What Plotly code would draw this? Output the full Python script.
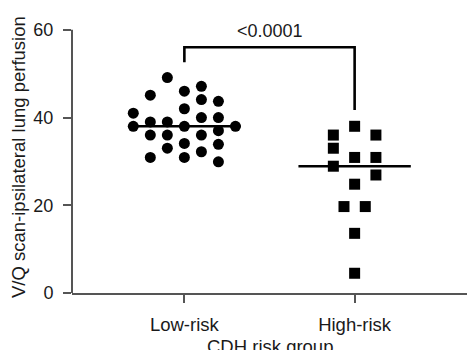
import numpy as np
import plotly.graph_objects as go

categories = ["Low-risk", "High-risk"]
cat_pos = [0, 1]

low_values = [49.1, 45.1, 46.0, 47.1, 44.1, 43.7, 41.0, 42.0, 40.0, 40.0, 38.0, 39.0, 39.0,
              38.0, 38.0, 37.0, 36.0, 36.0, 36.0, 33.9, 34.1, 33.0, 32.2, 30.9, 30.9, 29.9]
low_dx = [-0.1, -0.2, 0.0, 0.1, 0.1, 0.2, -0.3, 0.0, 0.1, 0.2, -0.3, -0.2, -0.1,
          0.0, 0.3, 0.2, -0.2, -0.1, 0.1, 0.2, 0.0, -0.1, 0.1, 0.0, -0.2, 0.2]

high_values = [38.0, 36.0, 36.0, 33.0, 30.9, 30.9, 28.9, 26.9, 24.8, 19.7, 19.7, 13.6, 4.5]
high_dx = [0.0, -0.125, 0.125, -0.125, 0.0, 0.125, -0.125, 0.125, 0.0, -0.0625, 0.0625, 0.0, 0.0]

y_ticks = [0, 20, 40, 60]
p_text = "<0.0001"
bracket_left, bracket_top, bracket_right = 52.6, 56.0, 41.7

FONT = "Liberation Sans, Arial, sans-serif"
TXT = "#1a1a1a"
AX = "#555555"
half = 0.33

fig = go.Figure()

# median lines
for pos, vals in zip(cat_pos, [low_values, high_values]):
    m = float(np.median(vals))
    fig.add_trace(go.Scatter(x=[pos - half, pos + half], y=[m, m], mode="lines",
                             line=dict(color="black", width=2.6), hoverinfo="skip",
                             showlegend=False))

fig.add_trace(go.Scatter(x=[cat_pos[0] + d for d in low_dx], y=low_values, mode="markers",
                         marker=dict(symbol="circle", size=11, color="black"),
                         showlegend=False, cliponaxis=False))
fig.add_trace(go.Scatter(x=[cat_pos[1] + d for d in high_dx], y=high_values, mode="markers",
                         marker=dict(symbol="square", size=11, color="black"),
                         showlegend=False, cliponaxis=False))

# significance bracket
fig.add_trace(go.Scatter(x=[cat_pos[0], cat_pos[0], cat_pos[1], cat_pos[1]],
                         y=[bracket_left, bracket_top, bracket_top, bracket_right],
                         mode="lines", line=dict(color="black", width=2.6),
                         hoverinfo="skip", showlegend=False))

fig.add_annotation(x=0.5, y=59.7, xref="x", yref="y", text=p_text, showarrow=False,
                   yanchor="middle", font=dict(family=FONT, size=18, color=TXT))

# y-axis line from 0 to 60
fig.add_shape(type="line", xref="paper", yref="y", x0=0, x1=0, y0=0, y1=60,
              line=dict(color=AX, width=2))

fig.add_annotation(x=0, y=31, xref="paper", yref="y", xshift=-54, textangle=-90,
                   xanchor="center", yanchor="middle",
                   text="V/Q scan-ipsilateral lung perfusion", showarrow=False,
                   font=dict(family=FONT, size=18.5, color=TXT))
fig.add_annotation(x=0.5, y=0, xref="paper", yref="paper", yshift=-41, yanchor="top",
                   text="CDH risk group", showarrow=False,
                   font=dict(family=FONT, size=18.5, color=TXT))

fig.update_layout(
    width=467, height=350,
    margin=dict(l=72, r=0, t=20.5, b=56.7, autoexpand=False),
    paper_bgcolor="white", plot_bgcolor="white",
    font=dict(family=FONT, size=18, color=TXT),
    xaxis=dict(range=[-0.66, 1.66], tickvals=cat_pos, ticktext=categories,
               showline=True, linecolor=AX, linewidth=2, ticks="outside",
               ticklen=8, tickwidth=2, tickcolor=AX, showgrid=False, zeroline=False,
               ticklabelstandoff=6, fixedrange=True, automargin=False,
               tickfont=dict(size=18.5)),
    yaxis=dict(range=[0, 62], tickvals=y_ticks, showline=False, ticks="outside",
               ticklen=8, tickwidth=2, tickcolor=AX, showgrid=False, zeroline=False,
               ticklabelstandoff=6, fixedrange=True, automargin=False),
)

fig.write_html("out.html", config={"displayModeBar": False},
               post_script="document.body.style.margin='0';")
